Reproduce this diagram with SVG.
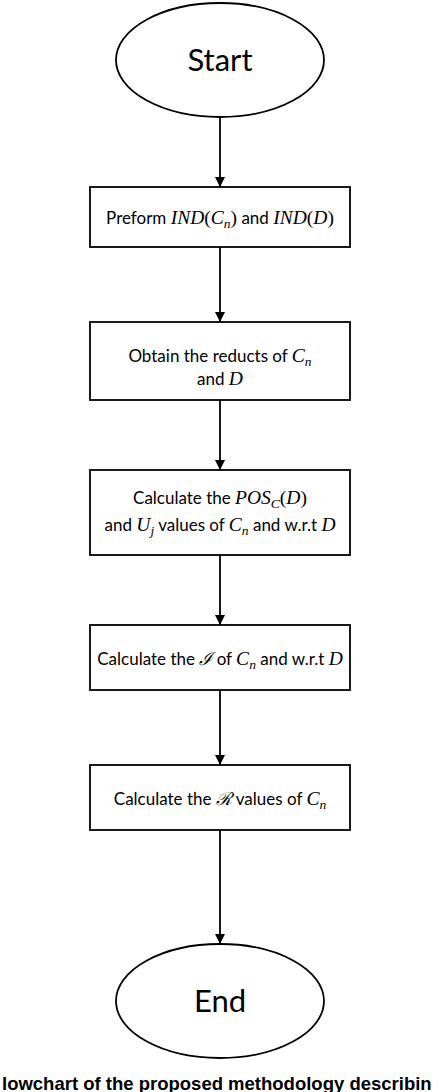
<svg xmlns="http://www.w3.org/2000/svg" width="440" height="1092" viewBox="0 0 440 1092">
<defs>
<marker id="ah" viewBox="0 0 10 10" refX="10" refY="5" markerWidth="10" markerHeight="10" markerUnits="userSpaceOnUse" orient="auto">
<path d="M0,0 L10,5 L0,10 z" fill="#000"/>
</marker>
<style>
.shape{fill:#fff;stroke:#000;stroke-width:1.8}
.t{font-family:Lato,"Liberation Sans",sans-serif;font-size:17px;fill:#000;text-anchor:middle}
.big{font-family:Lato,"Liberation Sans",sans-serif;font-size:31px;fill:#000;text-anchor:middle}
.m{font-family:"Liberation Serif",serif;font-size:19.5px}
.i{font-style:italic}
.s{font-size:13.5px}
.sc{font-family:"DejaVu Serif",serif;font-size:18px;font-style:italic}
.edge{stroke:#000;stroke-width:1.8;fill:none;marker-end:url(#ah)}
.cap{font-family:"Liberation Sans",sans-serif;font-weight:bold;font-size:18.5px;fill:#000}
</style>
</defs>
<rect width="440" height="1092" fill="#fff"/>
<g id="edges">
<line class="edge" x1="220" y1="117" x2="220" y2="187"/>
<line class="edge" x1="220" y1="247" x2="220" y2="322"/>
<line class="edge" x1="220" y1="400" x2="220" y2="470"/>
<line class="edge" x1="220" y1="555" x2="220" y2="625"/>
<line class="edge" x1="220" y1="690" x2="220" y2="765"/>
<line class="edge" x1="220" y1="830" x2="220" y2="944"/>
</g>
<g id="start">
<ellipse class="shape" cx="220" cy="60" rx="104" ry="57"/>
<text class="big" x="220" y="71">Start</text>
</g>
<g id="step1">
<rect class="shape" x="90" y="187" width="260" height="60"/>
<text class="t" x="220" y="224">Preform <tspan class="m i">IND</tspan><tspan class="m">(</tspan><tspan class="m i">C</tspan><tspan class="m i s" dy="4">n</tspan><tspan class="m" dy="-4">)</tspan> and <tspan class="m i">IND</tspan><tspan class="m">(</tspan><tspan class="m i">D</tspan><tspan class="m">)</tspan></text>
</g>
<g id="step2">
<rect class="shape" x="90" y="322" width="260" height="78"/>
<text class="t" x="220" y="362">Obtain the reducts of <tspan class="m i">C</tspan><tspan class="m i s" dy="4">n</tspan></text>
<text class="t" x="220" y="385">and <tspan class="m i">D</tspan></text>
</g>
<g id="step3">
<rect class="shape" x="90" y="470" width="260" height="85"/>
<text class="t" x="220" y="504">Calculate the <tspan class="m i">POS</tspan><tspan class="m i s" dy="4">C</tspan><tspan class="m" dy="-4">(</tspan><tspan class="m i">D</tspan><tspan class="m">)</tspan></text>
<text class="t" x="220" y="531">and <tspan class="m i">U</tspan><tspan class="m i s" dy="4">j</tspan><tspan dy="-4"> values of </tspan><tspan class="m i">C</tspan><tspan class="m i s" dy="4">n</tspan><tspan dy="-4"> and w.r.t </tspan><tspan class="m i">D</tspan></text>
</g>
<g id="step4">
<rect class="shape" x="90" y="625" width="260" height="65"/>
<text class="t" x="220" y="665">Calculate the <tspan class="sc">ℐ</tspan> of <tspan class="m i">C</tspan><tspan class="m i s" dy="4">n</tspan><tspan dy="-4"> and w.r.t </tspan><tspan class="m i">D</tspan></text>
</g>
<g id="step5">
<rect class="shape" x="90" y="765" width="260" height="65"/>
<text class="t" x="220" y="805">Calculate the <tspan class="sc">ℛ</tspan> values of <tspan class="m i">C</tspan><tspan class="m i s" dy="4">n</tspan></text>
</g>
<g id="end">
<ellipse class="shape" cx="220" cy="1001" rx="104" ry="57"/>
<text class="big" x="220" y="1012">End</text>
</g>
<text class="cap" x="2" y="1090">lowchart of the proposed methodology describin</text>
</svg>
